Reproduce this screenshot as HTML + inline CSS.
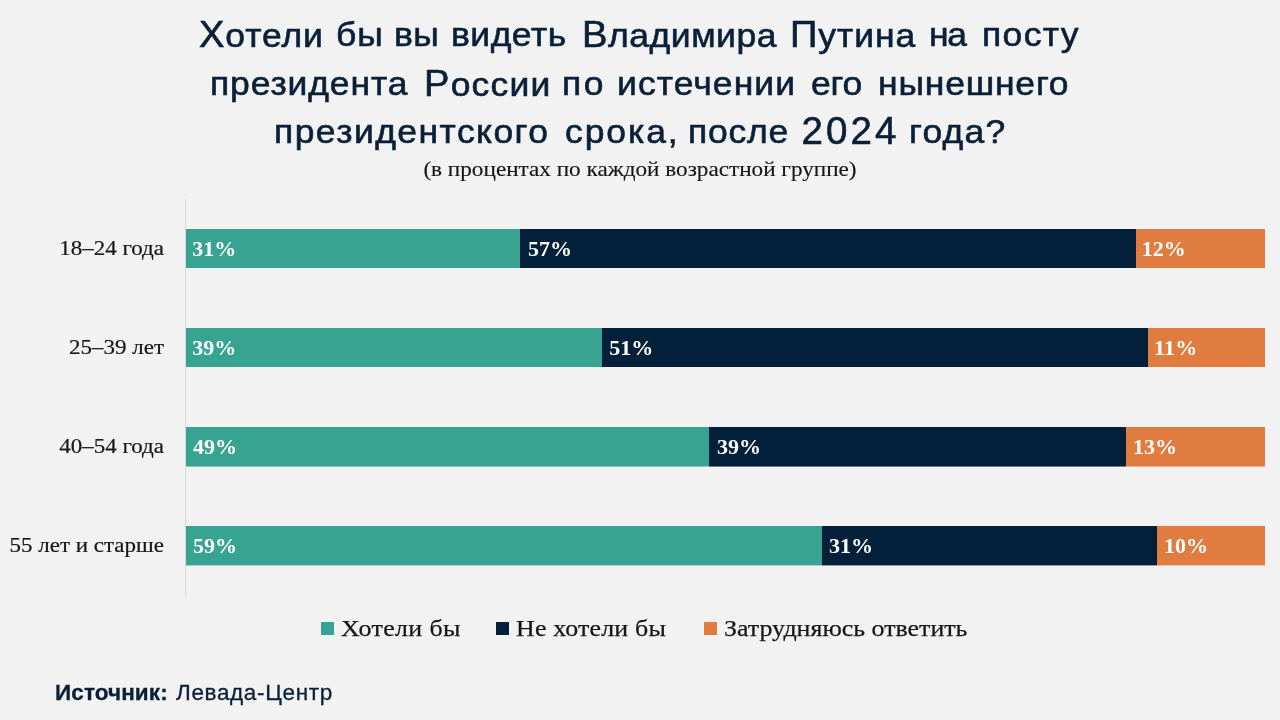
<!DOCTYPE html>
<html lang="ru">
<head>
<meta charset="utf-8">
<title>Опрос</title>
<style>
html,body{margin:0;padding:0;}
body{width:1280px;height:720px;background:#f2f2f2;position:relative;overflow:hidden;font-family:"Liberation Serif",serif;}
.title{position:absolute;left:0;width:1280px;height:40px;font-family:"Liberation Sans",sans-serif;color:#0a2038;font-size:33.5px;white-space:nowrap;line-height:40px;}
.title span{position:absolute;top:0;-webkit-text-stroke:0.6px #0a2038;transform:scaleX(1.06);transform-origin:0 50%;}
.title span b{font-weight:normal;font-size:36px;}
.title span.num{font-size:38.5px;transform:none;top:-1px;}
.sub{position:absolute;left:0;width:1280px;top:156px;text-align:center;font-size:22px;transform:scaleX(1.054);transform-origin:640px center;color:#161616;-webkit-text-stroke:0.15px #161616;line-height:26px;white-space:nowrap;}
.axis{position:absolute;left:185px;top:199px;width:1px;height:397px;background:#d9d9d9;}
.row{position:absolute;left:186px;width:1079px;height:39px;}
.seg{position:absolute;top:0;height:39px;color:#fff;font-weight:bold;font-size:22px;line-height:40px;}
.seg span{position:absolute;left:7px;top:0;}
.r3 .seg::after,.r4 .seg::after{content:"";position:absolute;left:0;width:100%;top:39px;height:1px;background:inherit;opacity:.55;}
.r4 .seg::after{opacity:.4;}
.a{background:#38a391;}
.b{background:#03203a;}
.c{background:#e17c40;}
.lab{position:absolute;left:0;width:164px;text-align:right;font-size:21px;transform:scaleX(1.095);transform-origin:right center;color:#161616;-webkit-text-stroke:0.2px #161616;line-height:39px;white-space:nowrap;}
.leg{position:absolute;top:613px;font-size:24px;transform:scaleX(1.08);transform-origin:left center;color:#161616;-webkit-text-stroke:0.25px #161616;line-height:30px;white-space:nowrap;}
.sq{position:absolute;width:13px;height:13px;top:622px;}
.src{position:absolute;left:55px;top:679px;font-family:"Liberation Sans",sans-serif;font-size:22.5px;color:#0a2038;line-height:28px;white-space:nowrap;}
.src b{letter-spacing:0.1px;-webkit-text-stroke:0.3px #0a2038;}
.src span{letter-spacing:0.65px;margin-left:2px;-webkit-text-stroke:0.3px #0a2038;}
</style>
</head>
<body>
<div class="title" style="top:15px"><span style="left:199.0px;letter-spacing:0.85px"><b>Х</b>отели</span> <span style="left:336.0px;letter-spacing:0.95px">бы</span> <span style="left:393.5px;letter-spacing:0.45px">вы</span> <span style="left:450.5px;letter-spacing:0.45px">видеть</span> <span style="left:581.5px;letter-spacing:0.5px"><b>В</b>ладимира</span> <span style="left:790.4px;letter-spacing:0.85px"><b>П</b>утина</span> <span style="left:929.2px;letter-spacing:-1.3px">на</span> <span style="left:982.0px;letter-spacing:1.25px">посту</span></div>
<div class="title" style="top:63.5px"><span style="left:209.5px;letter-spacing:0.8px">президента</span> <span style="left:424.0px;letter-spacing:1.1px"><b>Р</b>оссии</span> <span style="left:561.5px;letter-spacing:2.35px">по</span> <span style="left:617.3px;letter-spacing:1.0px">истечении</span> <span style="left:810.9px;letter-spacing:-0.2px">его</span> <span style="left:877.8px;letter-spacing:0.75px">нынешнего</span></div>
<div class="title" style="top:112px"><span style="left:273.6px;letter-spacing:1.35px">президентского</span> <span style="left:564.5px;letter-spacing:1.8px">срока,</span> <span style="left:687.5px;letter-spacing:0.7px">после</span> <span class="num" style="left:801.4px;letter-spacing:3.1px">2024</span> <span style="left:908.8px;letter-spacing:1.15px">года?</span></div>
<div class="sub">(в процентах по каждой возрастной группе)</div>
<div class="axis"></div>

<div class="lab" style="top:229px">18–24 года</div>
<div class="row" style="top:229px">
  <div class="seg a" style="left:0;width:334px"><span style="left:6.3px">31%</span></div>
  <div class="seg b" style="left:334px;width:616px"><span style="left:8px">57%</span></div>
  <div class="seg c" style="left:950px;width:129px"><span style="left:5.8px">12%</span></div>
</div>

<div class="lab" style="top:328px">25–39 лет</div>
<div class="row" style="top:328px">
  <div class="seg a" style="left:0;width:416px"><span style="left:6.3px">39%</span></div>
  <div class="seg b" style="left:416px;width:546px"><span style="left:7.3px">51%</span></div>
  <div class="seg c" style="left:962px;width:117px"><span style="left:6px;letter-spacing:0.2px">11%</span></div>
</div>

<div class="lab" style="top:427px">40–54 года</div>
<div class="row r3" style="top:427px">
  <div class="seg a" style="left:0;width:523px"><span>49%</span></div>
  <div class="seg b" style="left:523px;width:417px"><span style="left:8px">39%</span></div>
  <div class="seg c" style="left:940px;width:139px"><span>13%</span></div>
</div>

<div class="lab" style="top:526px">55 лет и старше</div>
<div class="row r4" style="top:526px">
  <div class="seg a" style="left:0;width:636px"><span>59%</span></div>
  <div class="seg b" style="left:636px;width:335px"><span>31%</span></div>
  <div class="seg c" style="left:971px;width:108px"><span>10%</span></div>
</div>

<div class="sq a" style="left:321px"></div><div class="leg" style="left:341px;letter-spacing:0.35px">Хотели бы</div>
<div class="sq b" style="left:496px"></div><div class="leg" style="left:516px;letter-spacing:0.15px">Не хотели бы</div>
<div class="sq c" style="left:704px"></div><div class="leg" style="left:724px">Затрудняюсь ответить</div>

<div class="src"><b>Источник:</b> <span>Левада-Центр</span></div>
</body>
</html>
